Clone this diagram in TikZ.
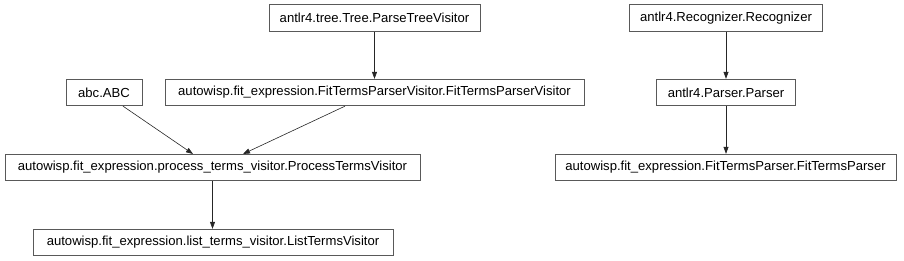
\documentclass[tikz,border=0pt]{standalone}
\usepackage{fontspec}
\setmainfont{Liberation Sans}
\usetikzlibrary{arrows.meta}

\begin{document}
\begin{tikzpicture}[
          x=1pt, y=-1pt,
          cls/.style={rectangle, draw=black!65, line width=0.8pt,
                      minimum height=26.5pt, inner xsep=0pt,
                      font=\fontsize{13.1}{15}\selectfont, text centered},
          inh/.style={-{Triangle[length=7pt, width=5pt]}, line width=0.6pt,
                      draw=black!85},
        ]
          \useasboundingbox (0,0) rectangle (904,261);

          \node[cls, minimum width=211pt] (ptv) at (374.5, 18)
               {antlr4.tree.Tree.ParseTreeVisitor};
          \node[cls, minimum width=76pt]  (abc) at (104, 92.5) {abc.ABC};
          \node[cls, minimum width=419pt] (ftpv) at (374.5, 92.5)
               {autowisp.fit\_expression.FitTermsParserVisitor.FitTermsParserVisitor};
          \node[cls, minimum width=415pt] (ptvis) at (212.5, 167.5)
               {autowisp.fit\_expression.process\_terms\_visitor.ProcessTermsVisitor};
          \node[cls, minimum width=360pt] (ltv) at (213, 242.5)
               {autowisp.fit\_expression.list\_terms\_visitor.ListTermsVisitor};

          \node[cls, minimum width=193pt] (rec) at (726, 18)
               {antlr4.Recognizer.Recognizer};
          \node[cls, minimum width=139pt] (par) at (726, 92.5)
               {antlr4.Parser.Parser};
          \node[cls, minimum width=341pt] (ftp) at (725.5, 167.5)
               {autowisp.fit\_expression.FitTermsParser.FitTermsParser};

          \draw[inh] (ptv) -- (ftpv);
          \draw[inh] (abc.south -| 123,0) -- (193,154);
          \draw[inh] (ftpv.south -| 345,0) -- (243,154);
          \draw[inh] (ptvis) -- (ptvis |- ltv.north);
          \draw[inh] (rec) -- (par);
          \draw[inh] (par) -- (par |- ftp.north);
        \end{tikzpicture}
\end{document}
